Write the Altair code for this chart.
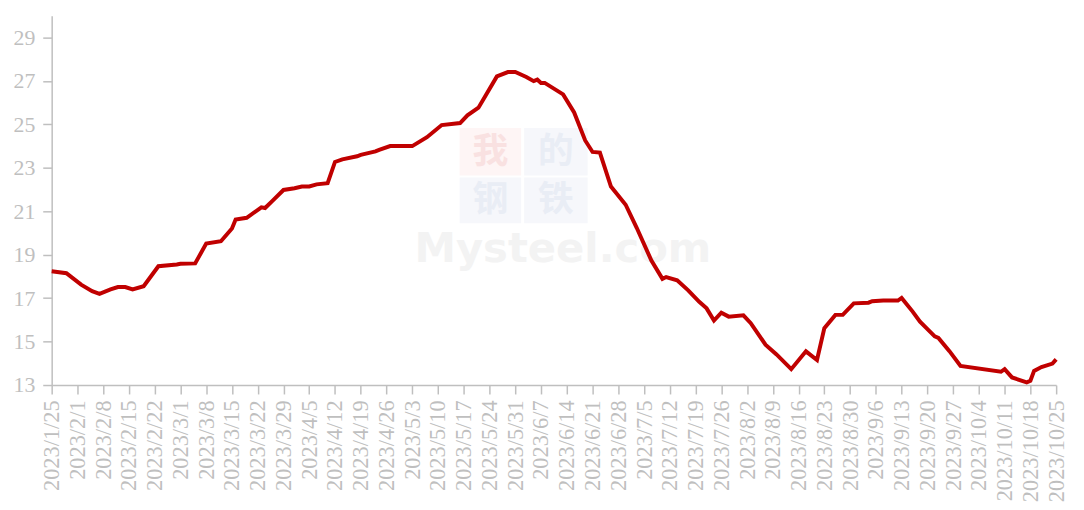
import altair as alt
import pandas as pd

dates = [
    "2023-01-25", "2023-01-29", "2023-02-02", "2023-02-05", "2023-02-07", "2023-02-10",
    "2023-02-12", "2023-02-14", "2023-02-16", "2023-02-19", "2023-02-23", "2023-02-28",
    "2023-03-01", "2023-03-05", "2023-03-08", "2023-03-12", "2023-03-15", "2023-03-16",
    "2023-03-19", "2023-03-23", "2023-03-24", "2023-03-26", "2023-03-29", "2023-04-01",
    "2023-04-03", "2023-04-05", "2023-04-07", "2023-04-10", "2023-04-12", "2023-04-14",
    "2023-04-18", "2023-04-19", "2023-04-23", "2023-04-24", "2023-04-27", "2023-05-03",
    "2023-05-07", "2023-05-11", "2023-05-16", "2023-05-18", "2023-05-21", "2023-05-26",
    "2023-05-29", "2023-05-31", "2023-06-03", "2023-06-05", "2023-06-06", "2023-06-07",
    "2023-06-08", "2023-06-13", "2023-06-16", "2023-06-19", "2023-06-21", "2023-06-23",
    "2023-06-26", "2023-06-30", "2023-07-03", "2023-07-07", "2023-07-10", "2023-07-11",
    "2023-07-14", "2023-07-17", "2023-07-20", "2023-07-22", "2023-07-24", "2023-07-26",
    "2023-07-28", "2023-08-01", "2023-08-03", "2023-08-07", "2023-08-10", "2023-08-14",
    "2023-08-18", "2023-08-21", "2023-08-23", "2023-08-26", "2023-08-28", "2023-08-31",
    "2023-09-04", "2023-09-05", "2023-09-08", "2023-09-12", "2023-09-13", "2023-09-16",
    "2023-09-18", "2023-09-22", "2023-09-23", "2023-09-26", "2023-09-29", "2023-10-10",
    "2023-10-11", "2023-10-13", "2023-10-17", "2023-10-18", "2023-10-19", "2023-10-21",
    "2023-10-24", "2023-10-25",
]
values = [
    18.24, 18.15, 17.62, 17.32, 17.20, 17.40,
    17.51, 17.51, 17.40, 17.55, 18.47, 18.55,
    18.58, 18.60, 19.51, 19.62, 20.21, 20.62,
    20.70, 21.18, 21.15, 21.48, 21.98, 22.06,
    22.14, 22.14, 22.24, 22.29, 23.27, 23.39,
    23.53, 23.60, 23.76, 23.83, 24.00, 24.00,
    24.41, 24.97, 25.06, 25.42, 25.77, 27.21,
    27.41, 27.41, 27.18, 26.99, 27.06, 26.91,
    26.91, 26.38, 25.55, 24.26, 23.73, 23.70,
    22.14, 21.30, 20.24, 18.73, 17.89, 17.97,
    17.82, 17.36, 16.83, 16.53, 15.97, 16.33,
    16.15, 16.21, 15.85, 14.86, 14.41, 13.73,
    14.55, 14.15, 15.62, 16.23, 16.23, 16.76,
    16.79, 16.86, 16.89, 16.89, 17.01, 16.38,
    15.92, 15.24, 15.17, 14.56, 13.88, 13.61,
    13.73, 13.35, 13.12, 13.20, 13.65, 13.83,
    13.99, 14.18,
]

tick_labels = [
    "2023/1/25", "2023/2/1", "2023/2/8", "2023/2/15", "2023/2/22", "2023/3/1",
    "2023/3/8", "2023/3/15", "2023/3/22", "2023/3/29", "2023/4/5", "2023/4/12",
    "2023/4/19", "2023/4/26", "2023/5/3", "2023/5/10", "2023/5/17", "2023/5/24",
    "2023/5/31", "2023/6/7", "2023/6/14", "2023/6/21", "2023/6/28", "2023/7/5",
    "2023/7/12", "2023/7/19", "2023/7/26", "2023/8/2", "2023/8/9", "2023/8/16",
    "2023/8/23", "2023/8/30", "2023/9/6", "2023/9/13", "2023/9/20", "2023/9/27",
    "2023/10/4", "2023/10/11", "2023/10/18", "2023/10/25",
]
y_ticks = [13, 15, 17, 19, 21, 23, 25, 27, 29]


def to_dt(label):
    y, m, d = (int(p) for p in label.split("/"))
    return alt.DateTime(year=y, month=m, date=d, utc=True)


tick_values = [to_dt(t) for t in tick_labels]

df = pd.DataFrame({"date": dates, "value": values})

GRAY = "#BFBFBF"
FONT = "Liberation Serif"

one = pd.DataFrame({"k": [0]})

# Watermark (decorative, very faint)
wm_chars = ["我", "的", "钢", "铁"]
wm_box_colors = ["#FEF5F5", "#F6F7FB", "#F6F7FB", "#F6F7FB"]
wm_char_colors = ["#F9E1E1", "#E9EDF5", "#E9EDF5", "#E9EDF5"]
boxes = pd.DataFrame({
    "x1": [411, 476, 411, 476], "x2": [473, 540, 473, 540],
    "y1": [113, 113, 163, 163], "y2": [161, 161, 209, 209],
    "c": wm_box_colors, "t": wm_chars, "tc": wm_char_colors,
})
boxes["xm"] = (boxes["x1"] + boxes["x2"]) / 2
boxes["ym"] = (boxes["y1"] + boxes["y2"]) / 2
wm_rect = alt.Chart(boxes).mark_rect().encode(
    x=alt.X("x1:Q", scale=None), x2="x2:Q",
    y=alt.Y("y1:Q", scale=None), y2="y2:Q",
    color=alt.Color("c:N", scale=None),
)
wm_text = alt.Chart(boxes).mark_text(
    font="Noto Sans CJK SC", fontSize=36, fontWeight="bold", baseline="middle", align="center"
).encode(
    x=alt.X("xm:Q", scale=None), y=alt.Y("ym:Q", scale=None),
    text="t:N", color=alt.Color("tc:N", scale=None),
)
wm_brand = alt.Chart(one).mark_text(
    text="Mysteel.com", font="DejaVu Sans", fontSize=42, fontWeight="bold",
    color="#F3F3F3", align="center", baseline="middle",
).encode(x=alt.value(515), y=alt.value(235))

line = alt.Chart(df).mark_line(color="#C00000", strokeWidth=4).encode(
    x=alt.X(
        "date:T",
        scale=alt.Scale(type="utc", domain=[tick_values[0], tick_values[-1]], nice=False),
        axis=alt.Axis(
            values=tick_values, format="%Y/%-m/%-d", labelAngle=270,
            labelAlign="right", labelBaseline="middle", title=None,
            labelFont=FONT, labelFontSize=22.5, labelColor=GRAY,
            tickSize=9, tickColor=GRAY, tickWidth=1.5,
            domainColor=GRAY, domainWidth=1.5, labelPadding=6,
            grid=False, labelOverlap=False, labelFlush=False,
        ),
    ),
    y=alt.Y(
        "value:Q",
        scale=alt.Scale(domain=[13, 30], nice=False, zero=False),
        axis=alt.Axis(
            values=y_ticks, title=None, labelFont=FONT, labelFontSize=22,
            labelColor=GRAY, tickSize=9, tickColor=GRAY, tickWidth=1.5,
            domainColor=GRAY, domainWidth=1.5, labelPadding=8, grid=False,
        ),
    ),
)

chart = alt.layer(wm_rect, wm_text, wm_brand, line).properties(
    width=1012, height=372,
    padding={"left": 44, "top": 6, "right": 20, "bottom": 116},
    autosize=alt.AutoSizeParams(type="none"),
    background="white",
).configure_view(stroke=None, strokeWidth=0)

chart.save("out.html", embed_options={"renderer": "svg", "actions": False})
